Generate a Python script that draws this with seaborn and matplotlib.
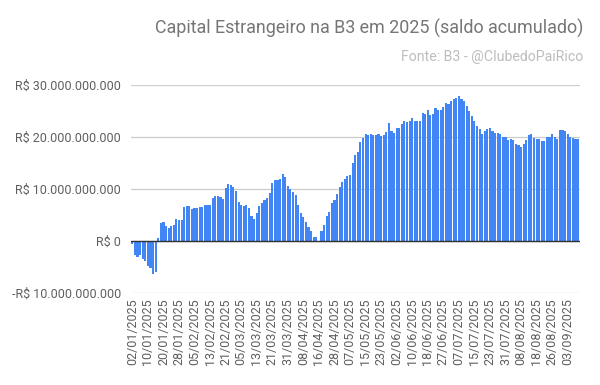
import pandas as pd
import numpy as np
import matplotlib
matplotlib.use("Agg")
import matplotlib.pyplot as plt
from matplotlib.ticker import FuncFormatter
import seaborn as sns

# B3 trading days from 02/01/2025 to 09/09/2025 (market holidays removed)
holidays = ["2025-03-03", "2025-03-04", "2025-04-18", "2025-04-21", "2025-05-01", "2025-06-19"]
dates = pd.bdate_range("2025-01-02", "2025-09-09")
dates = dates[~dates.isin(pd.to_datetime(holidays))]

# accumulated foreign flow, in R$ billions
saldo_bi = [
    -0.5, -2.7, -3.0, -2.7, -3.4, -3.8, -4.8, -5.1, -6.3, -5.9,
    0.5, 3.5, 3.7, 2.9, 2.5, 2.8, 3.0, 4.2, 4.0, 4.0,
    6.5, 6.7, 6.7, 6.2, 6.3, 6.3, 6.5, 6.5, 6.9, 6.9,
    6.9, 8.3, 8.7, 8.7, 8.5, 8.1, 10.2, 11.0, 10.8, 10.4,
    9.6, 7.5, 6.9, 6.7, 6.9, 6.3, 4.9, 4.3, 5.3, 6.7,
    7.3, 7.8, 8.3, 9.3, 11.2, 11.8, 11.8, 12.0, 12.8, 12.4,
    10.6, 10.1, 9.5, 8.9, 7.0, 5.3, 4.6, 3.7, 2.6, 2.0,
    0.8, 0.8, -0.2, 2.0, 3.1, 4.9, 5.6, 7.4, 7.9, 9.1,
    10.4, 11.3, 11.9, 12.5, 12.7, 15.0, 16.5, 17.1, 19.0, 19.8,
    20.6, 20.4, 20.6, 20.4, 20.4, 20.6, 20.2, 20.4, 21.0, 22.7,
    21.2, 20.8, 21.7, 21.7, 22.5, 23.1, 22.9, 23.0, 23.6, 23.1,
    23.1, 23.1, 24.6, 24.4, 25.3, 24.2, 24.4, 25.5, 25.2, 25.2,
    25.7, 26.5, 26.3, 26.9, 27.4, 27.6, 27.9, 27.4, 26.9, 26.0,
    25.0, 24.0, 23.1, 22.2, 21.5, 20.5, 21.2, 21.5, 21.7, 21.2,
    20.7, 20.7, 20.5, 20.1, 20.1, 19.4, 19.6, 19.4, 18.6, 18.4,
    18.0, 18.6, 19.4, 20.4, 20.6, 19.9, 19.7, 19.7, 19.2, 19.2,
    20.1, 20.1, 20.5, 20.1, 19.7, 21.3, 21.3, 21.1, 20.5, 20.1,
    19.9, 19.7, 19.7,
]

df = pd.DataFrame({
    "data": dates.strftime("%d/%m/%Y"),
    "saldo": np.array(saldo_bi) * 1e9,
})

sns.set_style("white")
plt.rcParams["font.family"] = ["Roboto", "DejaVu Sans"]

fig = plt.figure(figsize=(6, 3.85), dpi=100)
ax = fig.add_axes([0.218, 0.239, 0.748, 0.540])

sns.barplot(data=df, x="data", y="saldo", color="#4285F4", saturation=1,
            width=0.82, linewidth=0, edgecolor="none", ax=ax)

ax.set_ylim(-10e9, 30e9)
ax.set_xlim(-0.6, len(df) - 0.4)
ax.set_yticks([-10e9, 0, 10e9, 20e9, 30e9])


def brl(v, pos):
    s = f"{abs(v):,.0f}".replace(",", ".")
    return ("-R$ " if v < 0 else "R$ ") + s


ax.yaxis.set_major_formatter(FuncFormatter(brl))
ticks = list(range(0, len(df), 6))
ax.set_xticks(ticks)
ax.set_xticklabels(df["data"].iloc[ticks], rotation=90)

ax.grid(axis="y", color="#CCCCCC", linewidth=0.9)
ax.set_axisbelow(True)
ax.axhline(0, color="#333333", linewidth=1.0, zorder=3)
for s in ax.spines.values():
    s.set_visible(False)
ax.tick_params(axis="both", length=0, labelsize=9, colors="#5f5f5f")
ax.tick_params(axis="y", pad=7)
ax.tick_params(axis="x", pad=4)
ax.set_xlabel("")
ax.set_ylabel("")

fig.text(0.972, 0.927, "Capital Estrangeiro na B3 em 2025 (saldo acumulado)",
         ha="right", va="center", fontsize=12.9, color="#757575")
fig.text(0.972, 0.852, "Fonte: B3 - @ClubedoPaiRico",
         ha="right", va="center", fontsize=10.2, color="#BDBDBD")

fig.savefig("out.png", dpi=100)
